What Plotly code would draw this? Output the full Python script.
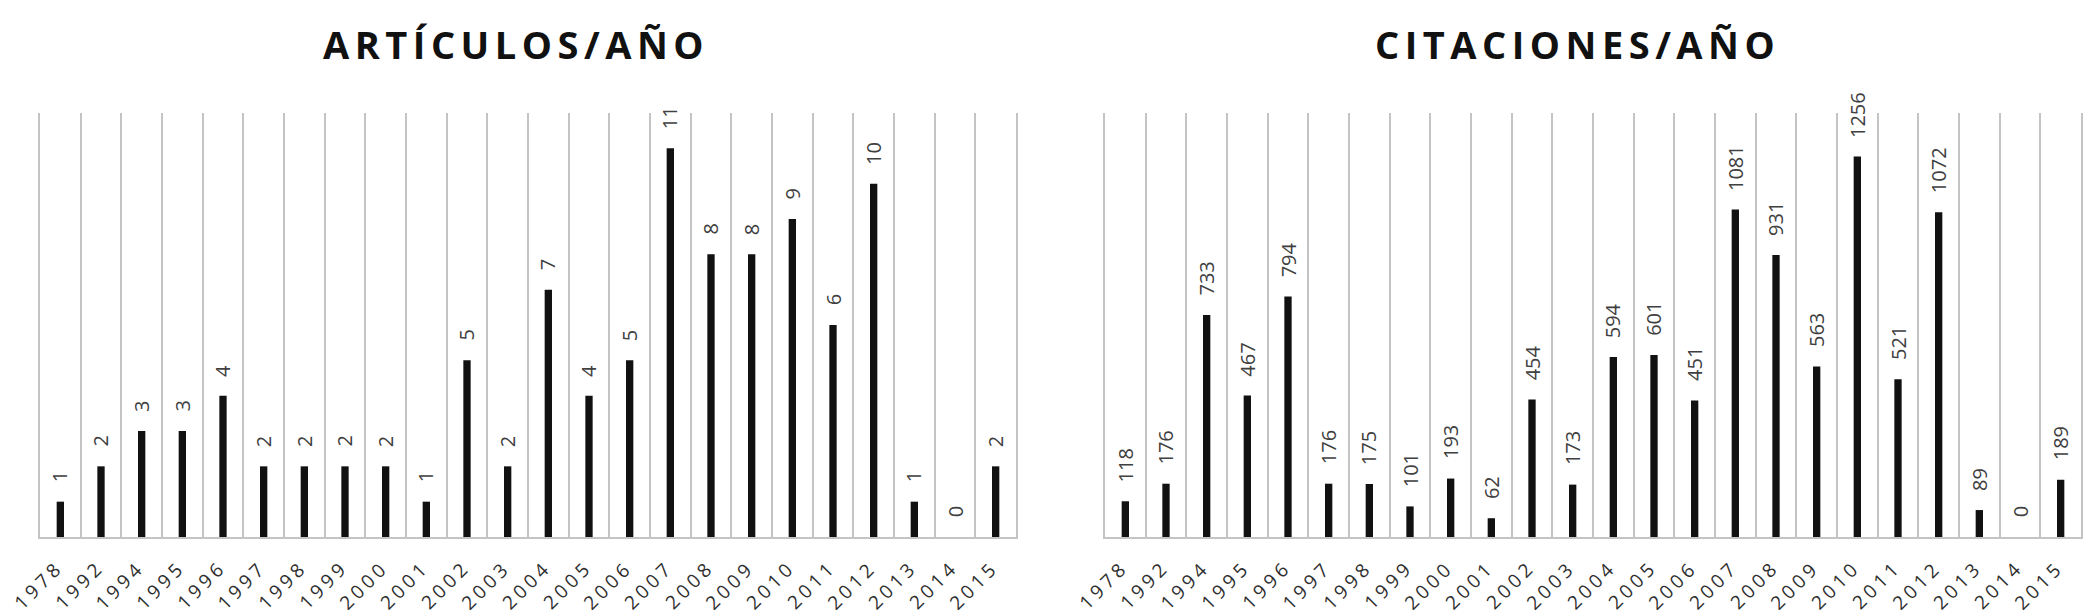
import plotly.graph_objects as go

years = ["1978", "1992", "1994", "1995", "1996", "1997", "1998", "1999", "2000",
         "2001", "2002", "2003", "2004", "2005", "2006", "2007", "2008", "2009",
         "2010", "2011", "2012", "2013", "2014", "2015"]
articulos = [1, 2, 3, 3, 4, 2, 2, 2, 2, 1, 5, 2, 7, 4, 5, 11, 8, 8, 9, 6, 10, 1, 0, 2]
citaciones = [118, 176, 733, 467, 794, 176, 175, 101, 193, 62, 454, 173, 594, 601,
              451, 1081, 931, 563, 1256, 521, 1072, 89, 0, 189]

titles = ["ARTÍCULOS/AÑO", "CITACIONES/AÑO"]

GRID = '#c4c4c4'
FONT = 'Open Sans'
LABEL_SIZE = 20


def spaced(s, px):
    # plotly has no letter-spacing option, so pass it through a styled span
    return '<span style="letter-spacing:{}px">{}</span>'.format(px, s)


fig = go.Figure()

fig.add_trace(go.Bar(x=years, y=articulos, width=0.18, marker=dict(color='#111111', line=dict(width=0)),
                     xaxis='x', yaxis='y', hoverinfo='x+y'))
fig.add_trace(go.Bar(x=years, y=citaciones, width=0.18, marker=dict(color='#111111', line=dict(width=0)),
                     xaxis='x2', yaxis='y2', hoverinfo='x+y'))

annotations = []
for xr, yr, vals in [('x', 'y', articulos), ('x2', 'y2', citaciones)]:
    for i, v in enumerate(vals):
        # value labels above the bars, rotated; rotated annotations anchor on their
        # unrotated box, so centre them and shift by half the text length
        half_len = len(str(v)) * 0.572 * LABEL_SIZE / 2
        annotations.append(dict(x=i, y=v, xref=xr, yref=yr, text=str(v), textangle=-90,
                                showarrow=False, yanchor='middle', xanchor='center', yshift=19 + half_len,
                                font=dict(family=FONT, size=LABEL_SIZE, color='#404040')))
        # year labels under the axis, slanted so they end at the category centre
        annotations.append(dict(x=i, y=0, xref=xr, yref=yr, text=spaced(years[i], 4), textangle=-45,
                                showarrow=False, yanchor='middle', xanchor='center', xshift=-22, yshift=-48,
                                font=dict(family=FONT, size=19, color='#2e2e2e')))

# chart titles
for cx, t in [(508 / 2091, titles[0]), (1569 / 2091, titles[1])]:
    annotations.append(dict(x=cx, y=1 - 36 / 615, xref='paper', yref='paper', xanchor='center', yanchor='middle',
                            text=spaced('<b>' + t + '</b>', 5.5),
                            showarrow=False, font=dict(family=FONT, size=38, color='#111111')))

xax = dict(type='category', tickson='boundaries', showgrid=True, gridcolor=GRID, gridwidth=1.5,
           showline=True, linecolor=GRID, linewidth=1.5, ticks='', showticklabels=False,
           range=[-0.5, len(years) - 0.5], fixedrange=True, automargin=False)
yax = dict(showgrid=False, zeroline=False, showticklabels=False, showline=True, mirror=True,
           linecolor=GRID, linewidth=1.5, ticks='', fixedrange=True, automargin=False)

fig.update_layout(
    width=2091, height=615,
    margin=dict(l=0, r=0, t=0, b=0),
    showlegend=False,
    plot_bgcolor='#ffffff',
    paper_bgcolor='#ffffff',
    xaxis=dict(xax, domain=[32 / 2091, 1008 / 2091], anchor='y'),
    xaxis2=dict(xax, domain=[1097 / 2091, 2073 / 2091], anchor='y2'),
    yaxis=dict(yax, domain=[86 / 615, 510 / 615], range=[0, 12], anchor='x'),
    yaxis2=dict(yax, domain=[86 / 615, 510 / 615], range=[0, 1400], anchor='x2'),
    annotations=annotations,
)

fig.write_html("out.html")
